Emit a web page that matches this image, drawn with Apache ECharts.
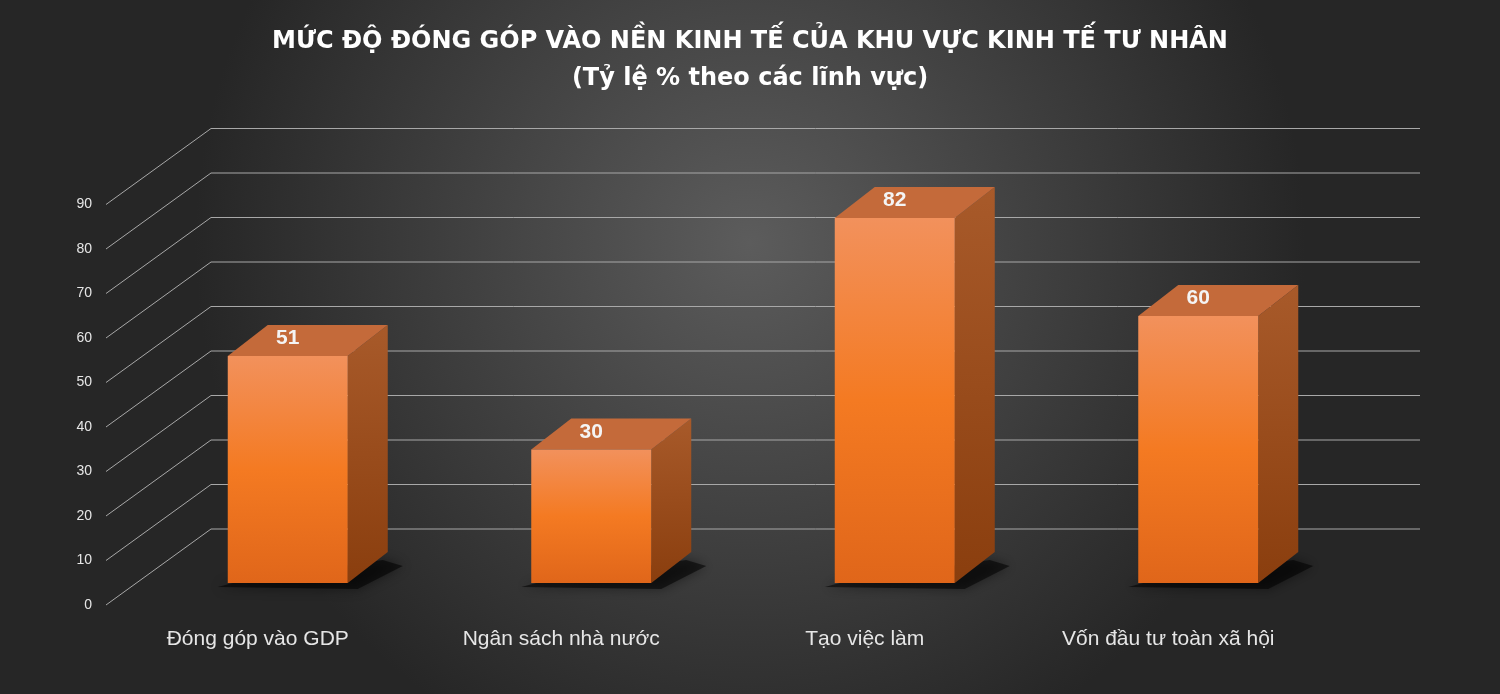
<!DOCTYPE html>
<html><head><meta charset="utf-8">
<script src="https://cdn.jsdelivr.net/npm/echarts@6/dist/echarts.min.js"></script>
<style>html,body{margin:0;padding:0;}#c{width:1500px;height:694px;}</style>
</head><body><div id="c"></div>
<script>
const categories = ['Đóng góp vào GDP', 'Ngân sách nhà nước', 'Tạo việc làm', 'Vốn đầu tư toàn xã hội'];
const values = [51, 30, 82, 60];
const ticks = [0, 10, 20, 30, 40, 50, 60, 70, 80, 90];

const chart = echarts.init(document.getElementById('c'));
const DX = 40, DY = -31;
chart.setOption({
  backgroundColor: {type:'radial', x:0.5, y:0.35, r:0.8,
    colorStops:[{offset:0,color:'#5c5c5c'},{offset:1,color:'#262626'}]},
  title: {
    text: 'MỨC ĐỘ ĐÓNG GÓP VÀO NỀN KINH TẾ CỦA KHU VỰC KINH TẾ TƯ NHÂN\n(Tỷ lệ % theo các lĩnh vực)',
    left: 'center', top: 18,
    textStyle: {color:'#ffffff', fontFamily:'DejaVu Sans', fontWeight:'bold', fontSize:24, lineHeight:37}
  },
  grid: {left:136, right:150, top:138, bottom:111},
  xAxis: {type:'category', data:categories, axisLine:{show:false}, axisTick:{show:false},
    axisLabel:{color:'#e6e6e6', fontSize:21, fontFamily:'Liberation Sans', margin:46, padding:[0,60,0,0]}},
  yAxis: {type:'value', min:0, max:100, show:false},
  series: [
    {
      type:'custom', data: ticks.map(t => [0, t]), silent:true, z:1,
      renderItem: function(params, api){
        const cs = params.coordSys;
        const v = api.value(1);
        const y = api.coord([0, v])[1];
        const fx = cs.x - 30, fy = y + 22, bx = cs.x + 75, by = y - 54, ex = cs.x + cs.width + 70;
        const st = {stroke:'#a8a8a8', lineWidth:1};
        return {type:'group', children:[
          {type:'line', shape:{x1:fx,y1:fy,x2:bx,y2:by}, style:st},
          {type:'line', shape:{x1:bx,y1:by,x2:ex,y2:by}, style:st},
          {type:'text', style:{text:String(v), x:fx-14, y:fy, align:'right', verticalAlign:'middle',
            fill:'#e6e6e6', fontSize:14, fontFamily:'Liberation Sans'}}
        ]};
      }
    },
    {
      type:'custom', data: values.map((v, i) => [i, v]), z:2,
      renderItem: function(params, api){
        const i = api.value(0), v = api.value(1);
        const top = api.coord([i, v]), bot = api.coord([i, 0]);
        const cx = top[0], yT = top[1], yB = bot[1];
        const x0 = cx - 60, x1 = cx + 60;
        return {type:'group', children:[
          {type:'polygon', shape:{points:[[x0+5,yB],[x1+DX-5,yB+DY+8],[x1+DX+15,yB+DY+14],[x1+10,yB+6],[x0-10,yB+4]]},
            style:{fill:'rgba(0,0,0,0.55)', shadowBlur:12, shadowColor:'rgba(0,0,0,0.8)'}},
          {type:'polygon', shape:{points:[[x1,yT],[x1+DX,yT+DY],[x1+DX,yB+DY],[x1,yB]]},
            style:{fill:{type:'linear',x:0,y:0,x2:0,y2:1,colorStops:[{offset:0,color:'#a85a2a'},{offset:1,color:'#8a3e0e'}]}}},
          {type:'polygon', shape:{points:[[x0,yT],[x0+DX,yT+DY],[x1+DX,yT+DY],[x1,yT]]},
            style:{fill:'#c46a3a'}},
          {type:'rect', shape:{x:x0,y:yT,width:120,height:yB-yT},
            style:{fill:{type:'linear',x:0,y:0,x2:0,y2:1,colorStops:[{offset:0,color:'#f2915c'},{offset:0.5,color:'#f47a22'},{offset:1,color:'#e0661a'}]}}},
          {type:'text', style:{text:String(v), x:cx, y:yT+DY/2-2, align:'center', verticalAlign:'middle',
            fill:'#f4f4f4', fontSize:21, fontWeight:'bold', fontFamily:'Liberation Sans'}}
        ]};
      }
    }
  ]
});
</script></body></html>
